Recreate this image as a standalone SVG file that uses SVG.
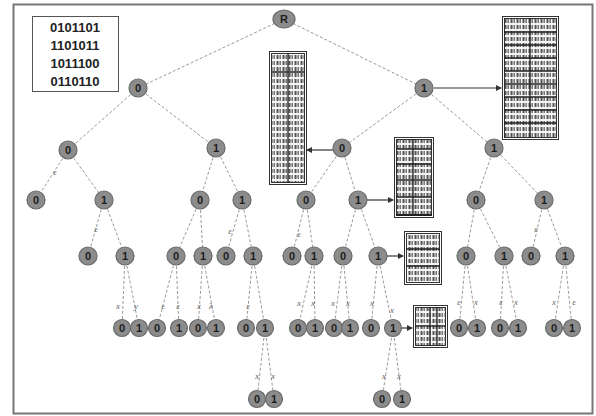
<svg xmlns="http://www.w3.org/2000/svg" width="596" height="416" viewBox="0 0 596 416">
<style>
.e{stroke:#9a9a9a;stroke-width:1;stroke-dasharray:3 2;fill:none}
.n circle,.n ellipse{fill:#8c8c8c;stroke:#6a6a6a;stroke-width:1.2}
.n text{font-family:"Liberation Sans",Arial,sans-serif;font-size:11px;font-weight:bold;fill:#1e1e1e;text-anchor:middle}
.lb{font-family:"Liberation Serif",serif;font-style:italic;font-size:9px;fill:#666;text-anchor:middle}
.t{fill:#fff;stroke:#333;stroke-width:1}
.ti{fill:url(#txt);stroke:#333;stroke-width:1}
.g{stroke:#222;stroke-width:1.3}
.a{stroke:#333;stroke-width:1.2;fill:none;marker-end:url(#ah)}
.lg{font-family:"Liberation Sans",Arial,sans-serif;font-size:13px;font-weight:bold;fill:#222;text-anchor:middle}
</style>
<defs>
<pattern id="txt" width="6" height="6" patternUnits="userSpaceOnUse">
<rect width="6" height="6" fill="#f4f4f4"/>
<rect x="0.5" y="1" width="2" height="4" fill="#555"/>
<rect x="3.5" y="1" width="1.5" height="4" fill="#777"/>
<rect x="2.5" y="2.5" width="1" height="1" fill="#888"/>
</pattern>
<marker id="ah" markerWidth="6" markerHeight="6" refX="5" refY="3" orient="auto" markerUnits="userSpaceOnUse">
<path d="M0,0 L6,3 L0,6 z" fill="#333"/>
</marker>
</defs>
<rect x="13.5" y="4.5" width="579" height="409" fill="#fff" stroke="#777" stroke-width="2"/>
<g id="legend">
<rect x="32.5" y="16.5" width="86" height="75" fill="#fff" stroke="#555" stroke-width="1"/>
<text class="lg" x="75" y="32">0101101</text>
<text class="lg" x="75" y="50">1101011</text>
<text class="lg" x="75" y="68">1011100</text>
<text class="lg" x="75" y="86">0110110</text>
</g>
<g id="connectors">
<line class="e" x1="284" y1="19" x2="138" y2="88"/>
<line class="e" x1="284" y1="19" x2="424" y2="88"/>
<line class="e" x1="138" y1="88" x2="68" y2="150"/>
<line class="e" x1="138" y1="88" x2="216" y2="148"/>
<line class="e" x1="68" y1="150" x2="36" y2="200"/>
<line class="e" x1="68" y1="150" x2="104" y2="200"/>
<line class="e" x1="104" y1="200" x2="88" y2="256"/>
<line class="e" x1="104" y1="200" x2="125" y2="256"/>
<line class="e" x1="125" y1="256" x2="122" y2="328"/>
<line class="e" x1="125" y1="256" x2="139" y2="328"/>
<line class="e" x1="216" y1="148" x2="200" y2="200"/>
<line class="e" x1="216" y1="148" x2="242" y2="200"/>
<line class="e" x1="200" y1="200" x2="176" y2="256"/>
<line class="e" x1="200" y1="200" x2="203" y2="256"/>
<line class="e" x1="176" y1="256" x2="157" y2="328"/>
<line class="e" x1="176" y1="256" x2="179" y2="328"/>
<line class="e" x1="203" y1="256" x2="198" y2="328"/>
<line class="e" x1="203" y1="256" x2="216" y2="328"/>
<line class="e" x1="242" y1="200" x2="226" y2="256"/>
<line class="e" x1="242" y1="200" x2="253" y2="256"/>
<line class="e" x1="253" y1="256" x2="246" y2="328"/>
<line class="e" x1="253" y1="256" x2="265" y2="328"/>
<line class="e" x1="265" y1="328" x2="257" y2="399"/>
<line class="e" x1="265" y1="328" x2="274" y2="399"/>
<line class="e" x1="424" y1="88" x2="342" y2="148"/>
<line class="e" x1="424" y1="88" x2="494" y2="148"/>
<line class="e" x1="342" y1="148" x2="306" y2="200"/>
<line class="e" x1="342" y1="148" x2="358" y2="200"/>
<line class="e" x1="306" y1="200" x2="292" y2="256"/>
<line class="e" x1="306" y1="200" x2="314" y2="256"/>
<line class="e" x1="314" y1="256" x2="298" y2="328"/>
<line class="e" x1="314" y1="256" x2="315" y2="328"/>
<line class="e" x1="358" y1="200" x2="343" y2="256"/>
<line class="e" x1="358" y1="200" x2="378" y2="256"/>
<line class="e" x1="343" y1="256" x2="334" y2="328"/>
<line class="e" x1="343" y1="256" x2="350" y2="328"/>
<line class="e" x1="378" y1="256" x2="371" y2="328"/>
<line class="e" x1="378" y1="256" x2="393" y2="328"/>
<line class="e" x1="393" y1="328" x2="382" y2="399"/>
<line class="e" x1="393" y1="328" x2="402" y2="399"/>
<line class="e" x1="494" y1="148" x2="476" y2="200"/>
<line class="e" x1="494" y1="148" x2="544" y2="200"/>
<line class="e" x1="476" y1="200" x2="466" y2="256"/>
<line class="e" x1="476" y1="200" x2="504" y2="256"/>
<line class="e" x1="466" y1="256" x2="459" y2="328"/>
<line class="e" x1="466" y1="256" x2="477" y2="328"/>
<line class="e" x1="504" y1="256" x2="500" y2="328"/>
<line class="e" x1="504" y1="256" x2="518" y2="328"/>
<line class="e" x1="544" y1="200" x2="531" y2="256"/>
<line class="e" x1="544" y1="200" x2="565" y2="256"/>
<line class="e" x1="565" y1="256" x2="554" y2="328"/>
<line class="e" x1="565" y1="256" x2="572" y2="328"/>
<line class="a" x1="434" y1="88" x2="501" y2="88"/>
<line class="a" x1="333" y1="150" x2="307" y2="150"/>
<line class="a" x1="367" y1="200" x2="393" y2="200"/>
<line class="a" x1="387" y1="256" x2="403" y2="256"/>
<line class="a" x1="402" y1="328" x2="412" y2="328"/>
<text class="lb" x="55" y="175">ε</text>
<text class="lb" x="96" y="232">ε</text>
<text class="lb" x="230" y="234">ε</text>
<text class="lb" x="299" y="237">ε</text>
<text class="lb" x="536" y="232">ε</text>
<text class="lb" x="118" y="309">x</text>
<text class="lb" x="136" y="309">y</text>
<text class="lb" x="163" y="309">ε</text>
<text class="lb" x="178" y="309">ε</text>
<text class="lb" x="199" y="309">x</text>
<text class="lb" x="211" y="309">λ</text>
<text class="lb" x="248" y="309">ε</text>
<text class="lb" x="299" y="306">x</text>
<text class="lb" x="313" y="306">x</text>
<text class="lb" x="333" y="306">x</text>
<text class="lb" x="348" y="306">x</text>
<text class="lb" x="372" y="306">x</text>
<text class="lb" x="392" y="313">x</text>
<text class="lb" x="459" y="305">ε</text>
<text class="lb" x="476" y="305">x</text>
<text class="lb" x="501" y="305">ε</text>
<text class="lb" x="516" y="305">x</text>
<text class="lb" x="554" y="305">x</text>
<text class="lb" x="574" y="305">ε</text>
<text class="lb" x="257" y="379">x</text>
<text class="lb" x="273" y="379">x</text>
<text class="lb" x="384" y="379">x</text>
<text class="lb" x="399" y="379">x</text>
</g>
<g id="table-big">
<rect class="t" x="502.5" y="16.5" width="56" height="123"/>
<rect class="ti" x="504.5" y="18.5" width="52" height="119"/>
<line class="g" x1="530" y1="18" x2="530" y2="138"/>
<line class="g" x1="504" y1="32" x2="557" y2="32"/>
<line class="g" x1="504" y1="45" x2="557" y2="45"/>
<line class="g" x1="504" y1="58" x2="557" y2="58"/>
<line class="g" x1="504" y1="71" x2="557" y2="71"/>
<line class="g" x1="504" y1="84" x2="557" y2="84"/>
<line class="g" x1="504" y1="97" x2="557" y2="97"/>
<line class="g" x1="504" y1="110" x2="557" y2="110"/>
<line class="g" x1="504" y1="123" x2="557" y2="123"/>
</g>
<g id="table-left">
<rect class="t" x="269.5" y="51.5" width="37" height="133"/>
<rect class="ti" x="271.5" y="53.5" width="33" height="129"/>
<line class="g" x1="288" y1="54" x2="288" y2="183"/>
<line class="g" x1="271" y1="72" x2="305" y2="72"/>
</g>
<g id="table-mid">
<rect class="t" x="394.5" y="137.5" width="39" height="80"/>
<rect class="ti" x="396.5" y="139.5" width="35" height="76"/>
<line class="g" x1="413" y1="139" x2="413" y2="216"/>
<line class="g" x1="396" y1="149" x2="432" y2="149"/>
<line class="g" x1="396" y1="164" x2="432" y2="164"/>
<line class="g" x1="396" y1="180" x2="432" y2="180"/>
<line class="g" x1="396" y1="197" x2="432" y2="197"/>
<line x1="396" y1="215" x2="432" y2="215" stroke="#222" stroke-width="2"/>
</g>
<g id="table-small">
<rect class="t" x="404.5" y="231.5" width="37" height="53"/>
<rect class="ti" x="406.5" y="233.5" width="33" height="49"/>
<line class="g" x1="406" y1="249" x2="440" y2="249"/>
<line class="g" x1="406" y1="266" x2="440" y2="266"/>
</g>
<g id="table-tiny">
<rect class="t" x="413.5" y="305.5" width="34" height="42"/>
<rect class="ti" x="415.5" y="307.5" width="30" height="38"/>
<line class="g" x1="430" y1="307" x2="430" y2="346"/>
<line class="g" x1="437" y1="307" x2="437" y2="346"/>
<line class="g" x1="415" y1="326" x2="446" y2="326"/>
</g>
<g id="n-R" class="n"><ellipse cx="284" cy="19" rx="11" ry="9"/><text x="284" y="23">R</text></g>
<g id="n-0" class="n"><circle cx="138" cy="88" r="9"/><text x="138" y="92">0</text></g>
<g id="n-1" class="n"><circle cx="424" cy="88" r="9"/><text x="424" y="92">1</text></g>
<g id="n-00" class="n"><circle cx="68" cy="150" r="9"/><text x="68" y="154">0</text></g>
<g id="n-01" class="n"><circle cx="216" cy="148" r="9"/><text x="216" y="152">1</text></g>
<g id="n-10" class="n"><circle cx="342" cy="148" r="9"/><text x="342" y="152">0</text></g>
<g id="n-11" class="n"><circle cx="494" cy="148" r="9"/><text x="494" y="152">1</text></g>
<g id="n-000" class="n"><circle cx="36" cy="200" r="9"/><text x="36" y="204">0</text></g>
<g id="n-001" class="n"><circle cx="104" cy="200" r="9"/><text x="104" y="204">1</text></g>
<g id="n-010" class="n"><circle cx="200" cy="200" r="9"/><text x="200" y="204">0</text></g>
<g id="n-011" class="n"><circle cx="242" cy="200" r="9"/><text x="242" y="204">1</text></g>
<g id="n-100" class="n"><circle cx="306" cy="200" r="9"/><text x="306" y="204">0</text></g>
<g id="n-101" class="n"><circle cx="358" cy="200" r="9"/><text x="358" y="204">1</text></g>
<g id="n-110" class="n"><circle cx="476" cy="200" r="9"/><text x="476" y="204">0</text></g>
<g id="n-111" class="n"><circle cx="544" cy="200" r="9"/><text x="544" y="204">1</text></g>
<g id="n-0010" class="n"><circle cx="88" cy="256" r="9"/><text x="88" y="260">0</text></g>
<g id="n-0011" class="n"><circle cx="125" cy="256" r="9"/><text x="125" y="260">1</text></g>
<g id="n-0100" class="n"><circle cx="176" cy="256" r="9"/><text x="176" y="260">0</text></g>
<g id="n-0101" class="n"><circle cx="203" cy="256" r="9"/><text x="203" y="260">1</text></g>
<g id="n-0110" class="n"><circle cx="226" cy="256" r="9"/><text x="226" y="260">0</text></g>
<g id="n-0111" class="n"><circle cx="253" cy="256" r="9"/><text x="253" y="260">1</text></g>
<g id="n-1000" class="n"><circle cx="292" cy="256" r="9"/><text x="292" y="260">0</text></g>
<g id="n-1001" class="n"><circle cx="314" cy="256" r="9"/><text x="314" y="260">1</text></g>
<g id="n-1010" class="n"><circle cx="343" cy="256" r="9"/><text x="343" y="260">0</text></g>
<g id="n-1011" class="n"><circle cx="378" cy="256" r="9"/><text x="378" y="260">1</text></g>
<g id="n-1100" class="n"><circle cx="466" cy="256" r="9"/><text x="466" y="260">0</text></g>
<g id="n-1101" class="n"><circle cx="504" cy="256" r="9"/><text x="504" y="260">1</text></g>
<g id="n-1110" class="n"><circle cx="531" cy="256" r="9"/><text x="531" y="260">0</text></g>
<g id="n-1111" class="n"><circle cx="565" cy="256" r="9"/><text x="565" y="260">1</text></g>
<g id="n-00110" class="n"><circle cx="122" cy="328" r="8.5"/><text x="122" y="332">0</text></g>
<g id="n-00111" class="n"><circle cx="139" cy="328" r="8.5"/><text x="139" y="332">1</text></g>
<g id="n-01000" class="n"><circle cx="157" cy="328" r="8.5"/><text x="157" y="332">0</text></g>
<g id="n-01001" class="n"><circle cx="179" cy="328" r="8.5"/><text x="179" y="332">1</text></g>
<g id="n-01010" class="n"><circle cx="198" cy="328" r="8.5"/><text x="198" y="332">0</text></g>
<g id="n-01011" class="n"><circle cx="216" cy="328" r="8.5"/><text x="216" y="332">1</text></g>
<g id="n-01110" class="n"><circle cx="246" cy="328" r="8.5"/><text x="246" y="332">0</text></g>
<g id="n-01111" class="n"><circle cx="265" cy="328" r="8.5"/><text x="265" y="332">1</text></g>
<g id="n-10010" class="n"><circle cx="298" cy="328" r="8.5"/><text x="298" y="332">0</text></g>
<g id="n-10011" class="n"><circle cx="315" cy="328" r="8.5"/><text x="315" y="332">1</text></g>
<g id="n-10100" class="n"><circle cx="334" cy="328" r="8.5"/><text x="334" y="332">0</text></g>
<g id="n-10101" class="n"><circle cx="350" cy="328" r="8.5"/><text x="350" y="332">1</text></g>
<g id="n-10110" class="n"><circle cx="371" cy="328" r="8.5"/><text x="371" y="332">0</text></g>
<g id="n-10111" class="n"><circle cx="393" cy="328" r="8.5"/><text x="393" y="332">1</text></g>
<g id="n-11000" class="n"><circle cx="459" cy="328" r="8.5"/><text x="459" y="332">0</text></g>
<g id="n-11001" class="n"><circle cx="477" cy="328" r="8.5"/><text x="477" y="332">1</text></g>
<g id="n-11010" class="n"><circle cx="500" cy="328" r="8.5"/><text x="500" y="332">0</text></g>
<g id="n-11011" class="n"><circle cx="518" cy="328" r="8.5"/><text x="518" y="332">1</text></g>
<g id="n-11110" class="n"><circle cx="554" cy="328" r="8.5"/><text x="554" y="332">0</text></g>
<g id="n-11111" class="n"><circle cx="572" cy="328" r="8.5"/><text x="572" y="332">1</text></g>
<g id="n-011110" class="n"><circle cx="257" cy="399" r="8.5"/><text x="257" y="403">0</text></g>
<g id="n-011111" class="n"><circle cx="274" cy="399" r="8.5"/><text x="274" y="403">1</text></g>
<g id="n-101110" class="n"><circle cx="382" cy="399" r="8.5"/><text x="382" y="403">0</text></g>
<g id="n-101111" class="n"><circle cx="402" cy="399" r="8.5"/><text x="402" y="403">1</text></g>
</svg>
